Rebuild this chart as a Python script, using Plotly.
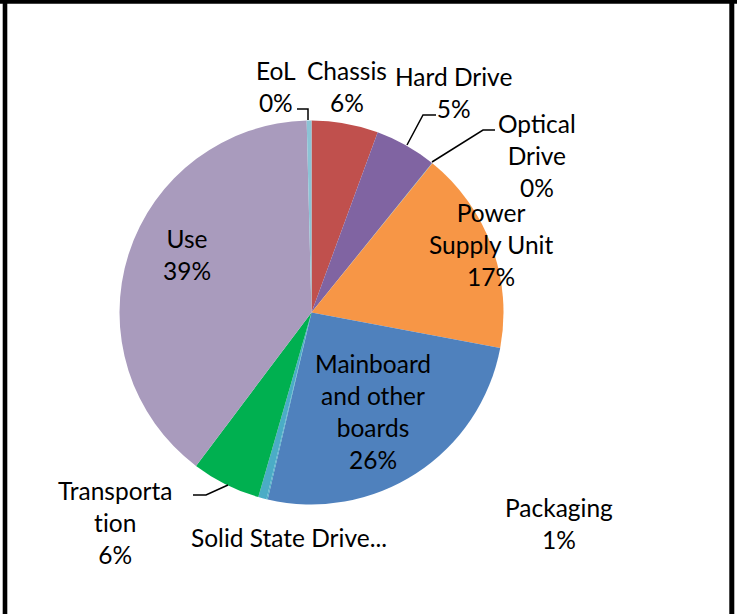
import plotly.graph_objects as go

# ---- data ----
categories = ["Chassis", "Hard Drive", "Optical Drive", "Power Supply Unit",
              "Mainboard and other boards", "Solid State Drive", "Packaging",
              "Transportation", "Use", "EoL"]
shares = [5.6, 5.2, 0.03, 17.1, 25.7, 0.1, 0.7, 5.8, 39.3, 0.4]

colors = ["#C0504D", "#8064A2", "#4BACC6", "#F79646", "#4F81BD",
          "#4BACC6", "#4BACC6", "#00B050", "#A99BBD", "#8CC3D5"]

W, H = 737, 614

def px(x, y):
    return x / W, 1 - y / H

total = sum(shares)
pct = {c: f"{round(v / total * 100):.0f}%" for c, v in zip(categories, shares)}

# label text (wrapped as in the reference) and label centre positions (pixels)
label_layout = {
    "EoL": ("EoL<br>{p}", 276, 86),
    "Chassis": ("Chassis<br>{p}", 347, 86),
    "Hard Drive": ("Hard Drive<br>{p}", 453, 92),
    "Optical Drive": ("Optical<br>Drive<br>{p}", 537, 155),
    "Power Supply Unit": ("Power<br>Supply Unit<br>{p}", 491, 245),
    "Use": ("Use<br>{p}", 187, 255),
    "Mainboard and other boards": ("Mainboard<br>and other<br>boards<br>{p}", 373, 411),
    "Transportation": ("Transporta<br>t\u200cion<br>{p}", 115, 522),
    "Solid State Drive": ("Solid State Drive...", 289, 537),
    "Packaging": ("Packaging<br>{p}", 559, 523),
}

leaders = [
    [(297, 109), (308, 109), (308, 120)],
    [(407, 145), (423, 115), (436, 115)],
    [(432, 162), (483, 130), (495, 130)],
    [(193, 495), (206, 495), (228, 485)],
]

fig = go.Figure(go.Pie(
    labels=categories,
    values=shares,
    marker=dict(colors=colors, line=dict(width=0)),
    sort=False,
    direction="clockwise",
    rotation=0,
    textinfo="none",
    hoverinfo="label+percent",
    showlegend=False,
    domain=dict(x=[119.5 / W, 503.5 / W], y=[1 - 505 / H, 1 - 120 / H]),
))

font = dict(family="Lato, 'Open Sans', sans-serif", size=24.5, color="#000000")
annotations = []
for c in categories:
    tmpl, x, y = label_layout[c]
    ax, ay = px(x, y)
    annotations.append(dict(
        x=ax, y=ay, xref="paper", yref="paper",
        text=tmpl.format(p=pct[c]), showarrow=False,
        xanchor="center", yanchor="middle", align="center", font=font,
    ))

shapes = []
for pts in leaders:
    path = "M " + " L ".join(f"{px(x, y)[0]},{px(x, y)[1]}" for x, y in pts)
    shapes.append(dict(type="path", xref="paper", yref="paper", path=path,
                       line=dict(color="#000000", width=1.5)))

# outer frame (bottom edge lies outside the view)
shapes += [
    dict(type="line", xref="paper", yref="paper", x0=5 / W, x1=5 / W, y0=-0.1, y1=1.01,
         line=dict(color="#000000", width=4.6)),
    dict(type="line", xref="paper", yref="paper", x0=731.8 / W, x1=731.8 / W, y0=-0.1, y1=1.01,
         line=dict(color="#000000", width=5)),
    dict(type="line", xref="paper", yref="paper", x0=0, x1=1, y0=1 - 1.8 / H, y1=1 - 1.8 / H,
         line=dict(color="#000000", width=3.7)),
]

fig.update_layout(
    width=W, height=H,
    margin=dict(l=0, r=0, t=0, b=0),
    paper_bgcolor="#FFFFFF",
    plot_bgcolor="#FFFFFF",
    annotations=annotations,
    shapes=shapes,
)

fig.write_html("out.html", config={"displayModeBar": False},
               post_script="document.body.style.margin='0';document.body.style.overflow='hidden';")
